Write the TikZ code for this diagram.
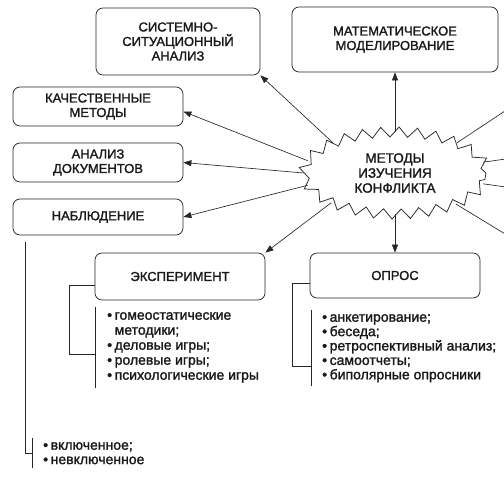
\documentclass[tikz,border=0pt]{standalone}
\usepackage{fontspec}
\setmainfont{Liberation Sans}[FakeBold=1.6]
\usetikzlibrary{shapes.geometric,decorations.pathmorphing,arrows.meta}
\newcommand\lbul{\makebox[7.5pt][l]{•}}
\newcommand\lind{\hspace*{7.5pt}}
\begin{document}
\begin{tikzpicture}[x=1pt,y=-1pt,
  box/.style={draw=black!85, line width=0.75pt, rounded corners=7pt, align=center,
    font=\fontsize{13}{14.5}\selectfont, inner sep=0pt, text=black!90},
  arr/.style={draw=black!85, line width=0.65pt, -{Triangle[length=8pt,width=6pt]}},
  ln/.style={draw=black!85, line width=0.65pt},
  lst/.style={align=left, anchor=north west, inner xsep=12pt, inner ysep=4pt,
    font=\fontsize{14}{14.4}\selectfont, text=black!90}]
\useasboundingbox (0,0) rectangle (504,482);
\clip (0,0) rectangle (504,482);
% boxes
\node[box, minimum width=164pt, minimum height=67pt] (sys) at (178,41.5) {СИСТЕМНО-\\СИТУАЦИОННЫЙ\\АНАЛИЗ};
\node[box, minimum width=206pt, minimum height=65pt] (mat) at (395,39.5) {МАТЕМАТИЧЕСКОЕ\\МОДЕЛИРОВАНИЕ};
\node[box, minimum width=170pt, minimum height=39pt] (kach) at (98,106.5) {КАЧЕСТВЕННЫЕ\\МЕТОДЫ};
\node[box, minimum width=170pt, minimum height=39pt] (doc) at (98,162.5) {АНАЛИЗ\\ДОКУМЕНТОВ};
\node[box, minimum width=170pt, minimum height=36pt] (nab) at (98,217) {НАБЛЮДЕНИЕ};
\node[box, minimum width=170pt, minimum height=47pt] (exp) at (180,276.5) {ЭКСПЕРИМЕНТ};
\node[box, minimum width=170pt, minimum height=45pt] (opr) at (395,275.5) {ОПРОС};
% star
\node[ellipse, draw=black!85, line width=0.75pt, minimum width=182pt, minimum height=82pt,
  inner sep=0pt, align=center, font=\fontsize{13.5}{15}\selectfont, text=black!90,
  decorate, decoration={zigzag, segment length=18pt, amplitude=5pt}] (star) at (395,173)
  {МЕТОДЫ\\ИЗУЧЕНИЯ\\КОНФЛИКТА};
% lists
\node[lst, font=\fontsize{14}{15}\selectfont, inner ysep=5pt] (explist) at (95,307) {\lbul гомеостатические\\\lind методики;\\\lbul деловые игры;\\\lbul ролевые игры;\\\lbul психологические игры};
\node[lst, inner xsep=11pt] (oprlist) at (311,310) {\lbul анкетирование;\\\lbul беседа;\\\lbul ретроспективный анализ;\\\lbul самоотчеты;\\\lbul биполярные опросники};
\node[lst, inner xsep=11pt] (nablist) at (32,438) {\lbul включенное;\\\lbul невключенное};
\draw[ln] (explist.north west) -- (explist.south west);
\draw[ln] (oprlist.north west) -- (oprlist.south west);
\draw[ln] (nablist.north west) -- (nablist.south west);
% brackets
\draw[ln] ([yshift=-8.5pt]exp.west) -| ([xshift=-26pt,yshift=34pt]explist.south west) -- ([yshift=34pt]explist.south west);
\draw[ln] ([yshift=-7.5pt]opr.west) -| ([xshift=-19pt,yshift=20pt]oprlist.south west) -- ([yshift=20pt]oprlist.south west);
\draw[ln] ([xshift=13pt,yshift=-7pt]nab.south west) |- (nablist.west);
% arrows
\draw[arr] (star.154) -- (sys.south east);
\draw[arr] (star.172) -- ([yshift=-5pt]kach.east);
\draw[arr] (star.180) -- (doc.east);
\draw[arr] (star.188) -- (nab.east);
\draw[arr] (star.205) -- (exp.north east);
\draw[arr] (star.south) -- (opr.north);
\draw[arr] (star.north) -- (mat.south);
% lines to the right edge
\coordinate (r1) at (520,101);
\coordinate (r2) at (520,157);
\coordinate (r3) at (520,189);
\coordinate (r4) at (520,243);
\draw[ln] (star.26) -- (r1);
\draw[ln] (star.7) -- (r2);
\draw[ln] (star.-7) -- (r3);
\draw[ln] (star.-27) -- (r4);
\end{tikzpicture}
\end{document}
